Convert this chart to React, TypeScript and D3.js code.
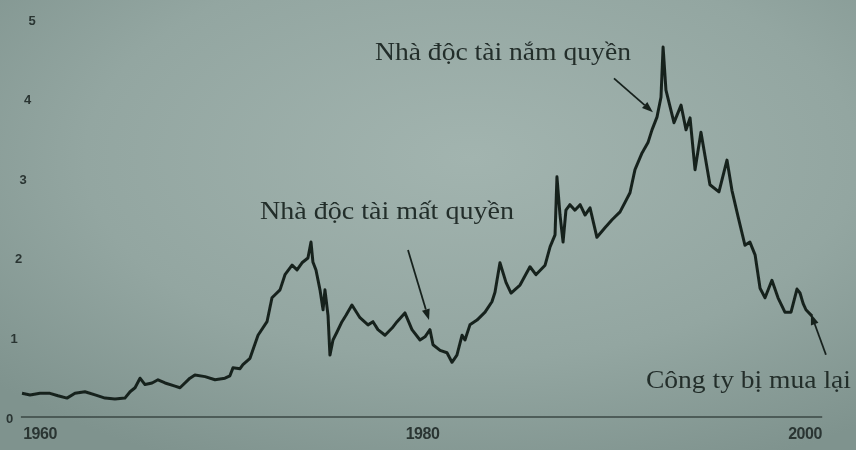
import React, { useEffect, useRef } from 'react';
import * as d3 from 'd3';

// share price traced from the photographed page
const years = [
  1959.06, 1959.48, 1960.0, 1960.52, 1960.94, 1961.41, 1961.83, 1962.35, 1962.88, 1963.4,
  1963.92, 1964.44, 1964.71, 1964.97, 1965.23, 1965.49, 1965.86, 1966.17, 1966.54, 1967.06,
  1967.32, 1967.84, 1968.1, 1968.63, 1969.15, 1969.67, 1969.93, 1970.09, 1970.46, 1970.61,
  1970.98, 1971.4, 1971.87, 1972.13, 1972.55, 1972.81, 1973.18, 1973.44, 1973.7, 1974.01,
  1974.17, 1974.27, 1974.43, 1974.64, 1974.8, 1974.9, 1975.06, 1975.16, 1975.32, 1975.53,
  1975.79, 1976.0, 1976.31, 1976.73, 1977.15, 1977.41, 1977.67, 1978.04, 1978.41, 1978.67,
  1979.08, 1979.45, 1979.87, 1980.13, 1980.39, 1980.55, 1980.92, 1981.28, 1981.54, 1981.8,
  1982.07, 1982.22, 1982.48, 1982.85, 1983.27, 1983.63, 1983.79, 1984.05, 1984.37, 1984.63,
  1985.1, 1985.62, 1985.93, 1986.41, 1986.67, 1986.93, 1987.03, 1987.19, 1987.35, 1987.5,
  1987.71, 1987.97, 1988.24, 1988.5, 1988.76, 1989.12, 1989.54, 1989.91, 1990.33, 1990.85,
  1991.11, 1991.48, 1991.79, 1992.0, 1992.26, 1992.47, 1992.58, 1992.73, 1993.15, 1993.52,
  1993.78, 1993.99, 1994.25, 1994.56, 1995.03, 1995.5, 1995.92, 1996.18, 1996.5, 1996.86,
  1997.12, 1997.39, 1997.65, 1997.91, 1998.27, 1998.59, 1998.95, 1999.27, 1999.58, 1999.74,
  1999.9, 2000.05, 2000.37,
];
const prices = [
  0.31, 0.29, 0.31, 0.31, 0.28, 0.25, 0.31, 0.33, 0.29, 0.25,
  0.24, 0.25, 0.33, 0.38, 0.5, 0.42, 0.44, 0.48, 0.44, 0.4,
  0.38, 0.5, 0.54, 0.52, 0.48, 0.5, 0.53, 0.63, 0.62, 0.67,
  0.75, 1.04, 1.21, 1.51, 1.61, 1.8, 1.92, 1.86, 1.95, 2.01,
  2.21, 1.96, 1.86, 1.61, 1.36, 1.61, 1.29, 0.79, 0.98, 1.08,
  1.21, 1.29, 1.42, 1.26, 1.17, 1.21, 1.11, 1.04, 1.13, 1.21,
  1.32, 1.11, 0.98, 1.02, 1.11, 0.92, 0.85, 0.82, 0.7, 0.79,
  1.04, 0.98, 1.17, 1.23, 1.33, 1.46, 1.58, 1.95, 1.7, 1.57,
  1.67, 1.9, 1.8, 1.92, 2.15, 2.3, 3.03, 2.55, 2.21, 2.61,
  2.68, 2.61, 2.68, 2.55, 2.64, 2.27, 2.39, 2.49, 2.59, 2.83,
  3.12, 3.33, 3.46, 3.62, 3.78, 4.03, 4.66, 4.12, 3.71, 3.93,
  3.62, 3.77, 3.12, 3.59, 2.93, 2.84, 3.24, 2.86, 2.53, 2.17,
  2.21, 2.05, 1.63, 1.51, 1.73, 1.51, 1.33, 1.33, 1.62, 1.57,
  1.44, 1.36, 1.28,
];

const yTicks = [0, 1, 2, 3, 4, 5];
const xTicks = [1960, 1980, 2000];

const noteTexts = ['Nhà độc tài nắm quyền', 'Nhà độc tài mất quyền', 'Công ty bị mua lại'];
const noteYears = [1992.05, 1980.34, 2000.31];
const noteValues = [3.84, 1.23, 1.31];

const W = 856;
const H = 450;

// arrow tail and label placement, relative to the arrow tip (px)
const noteLayout = [
  { tail: [-39, -34], label: [-278, -52], len: 256 },
  { tail: [-21, -70], label: [-169, -101], len: 254 },
  { tail: [15, 41], label: [-165, 74], len: 205 },
];

const ink = '#19221f';

const App: React.FC = () => {
  const svgRef = useRef<SVGSVGElement>(null);

  useEffect(() => {
    if (!svgRef.current) return;
    document.body.style.margin = '0';

    const svg = d3.select(svgRef.current);
    svg.selectAll('*').remove();

    const x = d3.scaleLinear().domain([1960, 2000]).range([40, 805]);
    const y = d3.scaleLinear().domain([0, 5]).range([418, 20]);

    const defs = svg.append('defs');
    const grad = defs.append('radialGradient')
      .attr('id', 'paper')
      .attr('cx', '55%').attr('cy', '35%').attr('r', '75%');
    grad.append('stop').attr('offset', '0%').attr('stop-color', '#a2b4af');
    grad.append('stop').attr('offset', '60%').attr('stop-color', '#93a6a1');
    grad.append('stop').attr('offset', '100%').attr('stop-color', '#7f938e');

    defs.append('filter').attr('id', 'soft')
      .append('feGaussianBlur').attr('stdDeviation', 0.6);

    // page
    svg.append('rect').attr('width', W).attr('height', H).attr('fill', 'url(#paper)');

    const g = svg.append('g').attr('filter', 'url(#soft)');

    // baseline
    g.append('line')
      .attr('x1', x(1959)).attr('x2', x(2000.9))
      .attr('y1', y(0) - 1).attr('y2', y(0) - 1)
      .attr('stroke', '#3a4845').attr('stroke-width', 1.6);

    // y labels drift right toward the top (page photographed at an angle)
    g.selectAll('.ytick')
      .data(yTicks)
      .join('text')
      .attr('class', 'ytick')
      .attr('x', d => 9.5 + 4.5 * d)
      .attr('y', d => y(d))
      .attr('dy', '0.35em')
      .attr('text-anchor', 'middle')
      .style('font-family', 'Liberation Sans, Arial, sans-serif')
      .style('font-size', '13px')
      .style('font-weight', 'bold')
      .style('fill', '#2a3533')
      .text(d => d);

    g.selectAll('.xtick')
      .data(xTicks)
      .join('text')
      .attr('class', 'xtick')
      .attr('x', d => x(d))
      .attr('y', 439)
      .attr('text-anchor', 'middle')
      .style('font-family', 'Liberation Sans, Arial, sans-serif')
      .style('font-size', '16px')
      .style('font-weight', 'bold')
      .style('letter-spacing', '-0.5px')
      .style('fill', '#2a3533')
      .text(d => d);

    const line = d3.line<number>()
      .x((_, i) => x(years[i]))
      .y(d => y(d));

    g.append('path')
      .datum(prices)
      .attr('d', line)
      .attr('fill', 'none')
      .attr('stroke', ink)
      .attr('stroke-width', 3)
      .attr('stroke-linejoin', 'round');

    // annotations
    noteTexts.forEach((t, i) => {
      const tx = x(noteYears[i]);
      const ty = y(noteValues[i]);
      const lay = noteLayout[i];
      const sx = tx + lay.tail[0];
      const sy = ty + lay.tail[1];
      const ang = Math.atan2(ty - sy, tx - sx);
      const hl = 11;
      const hw = 4;
      const bx = tx - hl * Math.cos(ang);
      const by = ty - hl * Math.sin(ang);

      g.append('line')
        .attr('x1', sx).attr('y1', sy).attr('x2', bx).attr('y2', by)
        .attr('stroke', ink).attr('stroke-width', 1.8);
      g.append('path')
        .attr('d', `M${tx},${ty}L${bx + hw * Math.sin(ang)},${by - hw * Math.cos(ang)}L${bx - hw * Math.sin(ang)},${by + hw * Math.cos(ang)}Z`)
        .attr('fill', ink);

      g.append('text')
        .attr('x', tx + lay.label[0])
        .attr('y', ty + lay.label[1])
        .attr('textLength', lay.len)
        .attr('lengthAdjust', 'spacingAndGlyphs')
        .style('font-family', 'Liberation Serif, Times New Roman, serif')
        .style('font-size', '26px')
        .style('fill', '#242e2b')
        .text(t);
    });
  }, []);

  return <svg ref={svgRef} width={W} height={H} style={{ display: 'block' }} />;
};

export default App;
